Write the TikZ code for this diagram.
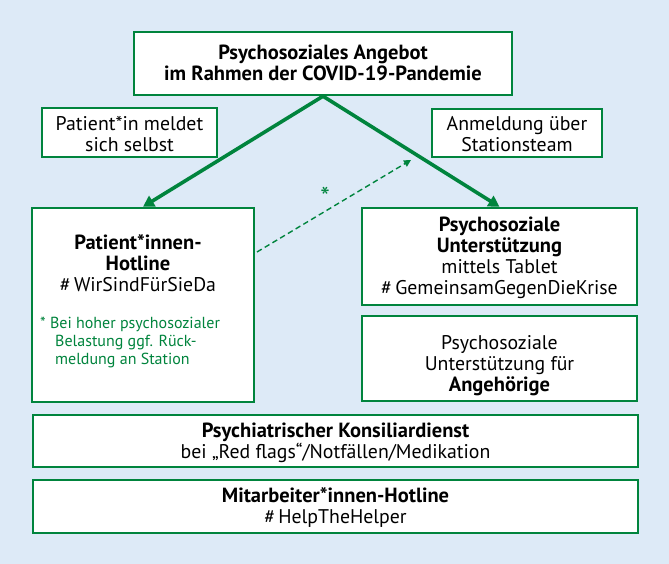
\documentclass[tikz,border=0pt]{standalone}
\usepackage{fontspec}
\setmainfont{PT Sans}
\usetikzlibrary{arrows.meta}
\definecolor{bgblue}{HTML}{DDEAF7}
\definecolor{dgreen}{HTML}{00843D}
\newcommand{\bt}[1]{{\fontsize{20.5}{21}\selectfont\bfseries #1}}
\begin{document}
\begin{tikzpicture}[x=1pt,y=-1pt,
  box/.style={draw=dgreen,line width=2.4pt,fill=white,inner sep=0pt,anchor=center},
  txt/.style={align=center,inner sep=0pt,font=\fontsize{19.8}{21}\selectfont,text=black},
  gtxt/.style={align=left,inner sep=0pt,font=\fontsize{16}{18}\selectfont,text=dgreen},
  mainarrow/.style={draw=dgreen,line width=3.6pt,-{Triangle[length=11pt,width=12pt]}},
  dasharrow/.style={draw=dgreen,line width=1.4pt,dash pattern=on 5.5pt off 3.5pt,-{Triangle[length=7pt,width=7pt]}}]
\useasboundingbox[fill=bgblue] (0,0) rectangle (669,564);
% boxes
\node[box,minimum width=378pt,minimum height=63pt] (top) at (323,63.5) {};
\node[box,minimum width=175pt,minimum height=49pt] (pself) at (129.5,132.5) {};
\node[box,minimum width=170pt,minimum height=48pt] (anm) at (517,133) {};
\node[box,minimum width=222pt,minimum height=194pt] (hot) at (143,305) {};
\node[box,minimum width=275pt,minimum height=97pt] (unt) at (499.5,256.5) {};
\node[box,minimum width=275pt,minimum height=85pt] (ang) at (499.5,358.5) {};
\node[box,minimum width=605pt,minimum height=52pt] (kon) at (335.5,441) {};
\node[box,minimum width=605pt,minimum height=53pt] (mit) at (335.5,506.5) {};
% texts
\node[txt] (ttop) at (323,63) {\bt{Psychosoziales Angebot}\\\bt{im Rahmen der COVID-19-Pandemie}};
\node[txt] (tpself) at (129.5,134) {Patient*in meldet\\sich selbst};
\node[txt] (tanm) at (517,134) {Anmeldung über\\Stationsteam};
\node[txt] (thot) at (138,263.5) {\bt{Patient*innen-}\\\bt{Hotline}\\\#\,WirSindFürSieDa};
\node[gtxt,anchor=north west] (ghot) at (40,317) {*\ Bei hoher psychosozialer\\\hspace*{15pt}Belastung ggf. Rück-\\\hspace*{15pt}meldung an Station};
\node[txt] (tunt) at (499.5,257.5) {\bt{Psychosoziale}\\\bt{Unterstützung}\\mittels Tablet\\\#\,GemeinsamGegenDieKrise};
\node[txt] (tang) at (499.5,366) {Psychosoziale\\Unterstützung für\\\bt{Angehörige}};
\node[txt] (tkon) at (335.5,442.5) {\bt{Psychiatrischer Konsiliardienst}\\bei „Red flags“/Notfällen/Medikation};
\node[txt] (tmit) at (335.5,507.5) {\bt{Mitarbeiter*innen-Hotline}\\\#\,HelpTheHelper};
% connectors
\draw[mainarrow] (top.south) -- (hot.north);
\draw[mainarrow] (top.south) -- (unt.north);
\coordinate (ds) at (257,252);
\coordinate (de) at (411,160);
\draw[dasharrow] (ds) -- (de);
\node[text=dgreen,inner sep=0pt,font=\fontsize{27}{27}\selectfont] (star) at (325,197) {*};
\end{tikzpicture}
\end{document}
